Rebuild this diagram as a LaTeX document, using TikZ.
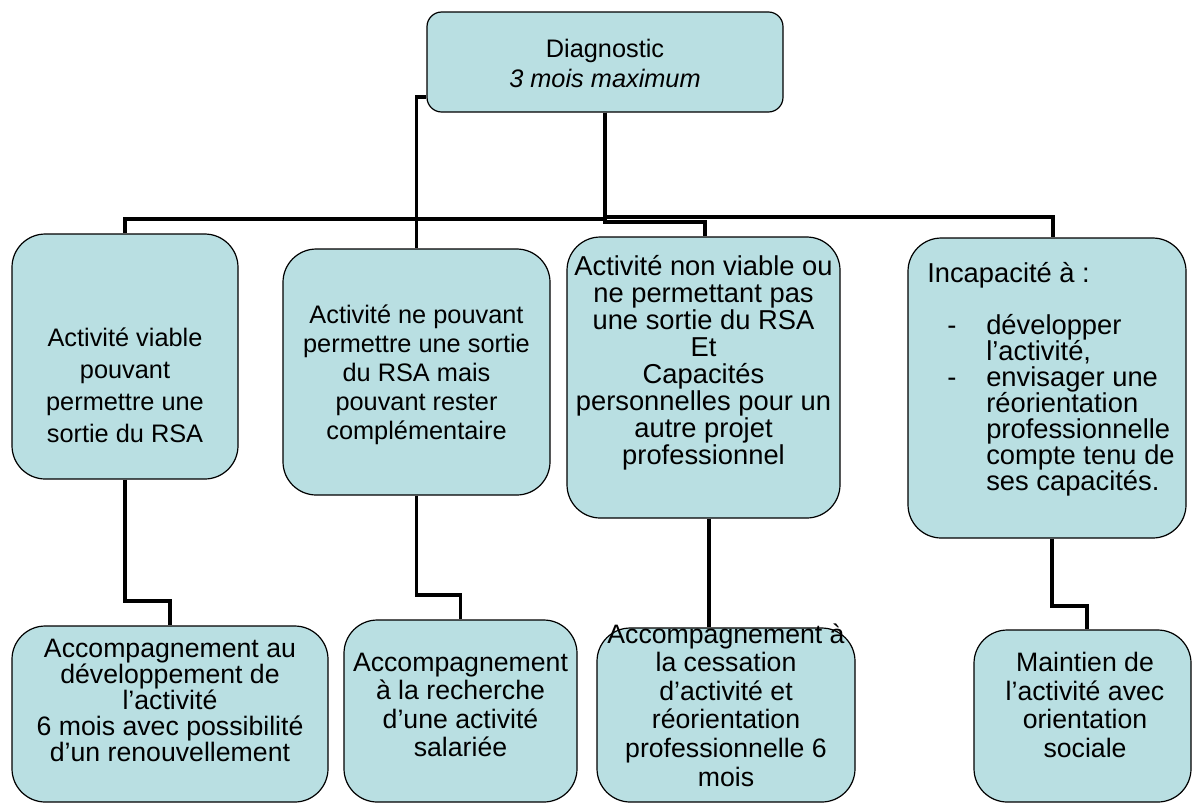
\documentclass[tikz,border=0pt]{standalone}
\usepackage{fontspec}
\setmainfont{Liberation Sans}
\definecolor{boxfill}{RGB}{185,223,226}
\begin{document}
\begin{tikzpicture}[x=0.75pt,y=-0.75pt,
  box/.style={draw=black, line width=0.9pt, fill=boxfill, rounded corners=25pt, inner sep=0pt},
  conn/.style={draw=black, line width=2.6pt, line cap=butt, line join=miter},
  txt/.style={inner sep=0pt, align=center, text=black}]
\useasboundingbox (0,0) rectangle (1194,804);
% boxes
\node[box, rounded corners=11pt, minimum width=267pt, minimum height=75pt] (T) at (605,62) {};
\node[box, minimum width=169.5pt, minimum height=183.75pt] (B1) at (125,356.5) {};
\node[box, minimum width=200.25pt, minimum height=184.5pt] (B2) at (416.5,372) {};
\node[box, minimum width=204.75pt, minimum height=210.75pt] (B3) at (703.5,377.5) {};
\node[box, minimum width=208.5pt, minimum height=225pt] (B4) at (1047,388) {};
\node[box, minimum width=237pt, minimum height=132pt] (B5) at (170,714) {};
\node[box, minimum width=174.75pt, minimum height=136.5pt] (B6) at (460.5,711) {};
\node[box, minimum width=193.5pt, minimum height=130.5pt] (B7) at (726,715) {};
\node[box, minimum width=162.75pt, minimum height=129pt] (B8) at (1082.5,716) {};
% texts
\node[txt, font=\fontsize{19}{22.5}\selectfont] (t0) at (605,63) {Diagnostic\\\textit{3 mois maximum}};
\node[txt, font=\fontsize{19}{24}\selectfont] (t1) at (125,385) {Activité viable\\pouvant\\permettre une\\sortie du RSA};
\node[txt, font=\fontsize{19}{21.75}\selectfont] (t2) at (416.5,375) {Activité ne pouvant\\permettre une sortie\\du RSA mais\\pouvant rester\\complémentaire};
\node[txt, font=\fontsize{20.5}{20.25}\selectfont] (t3) at (703.5,363) {Activité non viable ou\\ne permettant pas\\une sortie du RSA\\Et\\Capacités\\personnelles pour un\\autre projet\\professionnel};
\node[txt, align=left, anchor=west, font=\fontsize{20.5}{19.5}\selectfont] (t4) at (927,379) {Incapacité à :\\[19.5pt]
\hspace*{15pt}\makebox[29.25pt][l]{-}développer\\
\hspace*{44.25pt}l’activité,\\
\hspace*{15pt}\makebox[29.25pt][l]{-}envisager une\\
\hspace*{44.25pt}réorientation\\
\hspace*{44.25pt}professionnelle\\
\hspace*{44.25pt}compte tenu de\\
\hspace*{44.25pt}ses capacités.};
\node[txt, font=\fontsize{20}{19.5}\selectfont] (t5) at (170,700) {Accompagnement au\\développement de\\l’activité\\6 mois avec possibilité\\d’un renouvellement};
\node[txt, font=\fontsize{20}{21.4}\selectfont] (t6) at (460.5,705) {Accompagnement\\à la recherche\\d’une activité\\salariée};
\node[txt, font=\fontsize{20}{21.4}\selectfont] (t7) at (726,705) {Accompagnement à\\la cessation\\d’activité et\\réorientation\\professionnelle 6\\mois};
\node[txt, font=\fontsize{20}{21.4}\selectfont] (t8) at (1085,705) {Maintien de\\l’activité avec\\orientation\\sociale};
% connectors
\draw[conn] (T.south) -- (T.south |- 0,219) -- (B1.north |- 0,219) -- (B1.north);
\draw[conn] (T.west |- 0,97) -- (B2.north |- 0,97) -- (B2.north);
\draw[conn] (T.south) -- (T.south |- 0,222) -- (705,222) -- (B3.north -| 705,0);
\draw[conn] (T.south) -- (T.south |- 0,217) -- (1053,217) -- (B4.north -| 1053,0);
\draw[conn] (B1.south) -- (B1.south |- 0,601) -- (B5.north |- 0,601) -- (B5.north);
\draw[conn] (B2.south) -- (B2.south |- 0,595) -- (B6.north |- 0,595) -- (B6.north);
\draw[conn] (B3.south -| 709,0) -- (B7.north -| 709,0);
\draw[conn] (B4.south -| 1052,0) -- (1052,606) -- (1087,606) -- (B8.north -| 1087,0);
\end{tikzpicture}
\end{document}
